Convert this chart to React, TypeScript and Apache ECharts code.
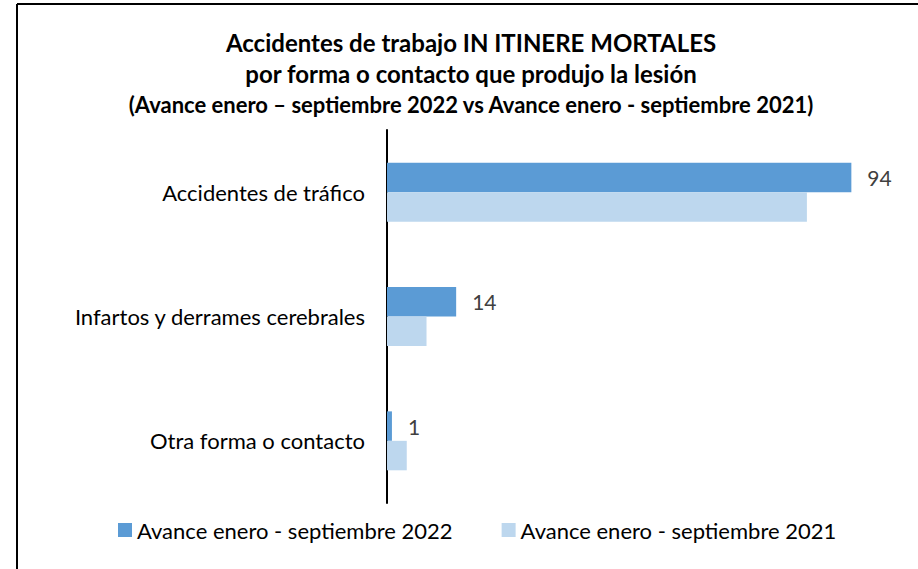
import React, { useEffect, useRef } from "react";
import * as echarts from "echarts";

const categories = ["Accidentes de tráfico", "Infartos y derrames cerebrales", "Otra forma o contacto"];
const values2022 = [94, 14, 1];
const values2021 = [85, 8, 4];
const seriesNames = ["Avance enero - septiembre 2022", "Avance enero - septiembre 2021"];
const titleLines = [
  "Accidentes de trabajo IN ITINERE MORTALES",
  "por forma o contacto que produjo la lesión",
  "(Avance enero – septiembre 2022 vs Avance enero - septiembre 2021)",
];

const FONT = "Lato, 'Liberation Sans', sans-serif";

export default function App() {
  const ref = useRef<HTMLDivElement>(null);
  useEffect(() => {
    document.body.style.margin = "0";
    const chart = echarts.init(ref.current!, null, { renderer: "svg" });
    chart.setOption({
      animation: false,
      backgroundColor: "#ffffff",
      textStyle: { fontFamily: FONT },
      graphic: [
        { type: "line", shape: { x1: 17, y1: 4, x2: 918, y2: 4 }, style: { stroke: "#000", lineWidth: 2 } },
        { type: "line", shape: { x1: 17, y1: 4, x2: 17, y2: 569 }, style: { stroke: "#000", lineWidth: 2 } },
        {
          type: "text", x: 471, y: 42,
          style: { text: titleLines[0], textAlign: "center", textVerticalAlign: "middle", font: `bold 24px ${FONT}`, fill: "#000" },
        },
        {
          type: "text", x: 471, y: 73,
          style: { text: titleLines[1], textAlign: "center", textVerticalAlign: "middle", font: `bold 24px ${FONT}`, fill: "#000" },
        },
        {
          type: "text", x: 471, y: 104,
          style: { text: titleLines[2], textAlign: "center", textVerticalAlign: "middle", font: `bold 22px ${FONT}`, fill: "#000" },
        },
      ],
      legend: {
        data: seriesNames,
        left: 113,
        top: 514,
        itemWidth: 14,
        itemHeight: 14,
        itemGap: 49,
        icon: "rect",
        textStyle: { fontSize: 22, color: "#000", fontFamily: FONT },
      },
      grid: { left: 387, right: 37, top: 130, bottom: 66, containLabel: false },
      xAxis: {
        type: "value",
        min: 0,
        max: 100,
        show: false,
      },
      yAxis: {
        type: "category",
        data: categories,
        inverse: true,
        axisLine: { show: true, lineStyle: { color: "#000", width: 2 } },
        axisTick: { show: false },
        axisLabel: { color: "#000", fontSize: 22, margin: 22, fontFamily: FONT },
      },
      series: [
        {
          name: seriesNames[0],
          type: "bar",
          data: values2022,
          barGap: "0%",
          barCategoryGap: "52.6%",
          itemStyle: { color: "#5B9BD5" },
          label: { show: true, position: "right", distance: 16, color: "#404040", fontSize: 21, fontFamily: FONT },
        },
        {
          name: seriesNames[1],
          type: "bar",
          data: values2021,
          barGap: "0%",
          barCategoryGap: "52.6%",
          itemStyle: { color: "#BDD7EE" },
        },
      ],
    });
    return () => chart.dispose();
  }, []);
  return <div ref={ref} style={{ width: 918, height: 569 }} />;
}
